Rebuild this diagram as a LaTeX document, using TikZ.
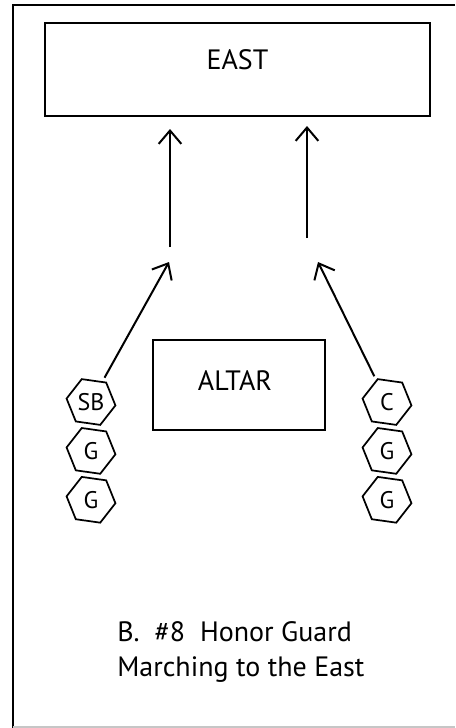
\documentclass[tikz,border=0pt]{standalone}
\usepackage{fontspec}
\setmainfont{PT Sans}
\usetikzlibrary{positioning, arrows.meta, shapes.geometric}
\tikzset{
  roombox/.style={
    draw,
    line width=1.5pt,
    inner sep=0pt
  },
  roomtext/.style={font=\fontsize{21}{25}\selectfont, inner sep=0pt},
  guard/.style={
    draw,
    regular polygon,
    regular polygon sides=6,
    shape border rotate=-8,
    minimum size=37pt,
    inner sep=0pt,
    line width=1.3pt,
    font=\fontsize{18}{22}\selectfont
  },
  march/.style={->, line width=1.5pt},
  frameline/.style={line width=2.2pt},
  caption/.style={font=\fontsize{21}{26.25}\selectfont, align=left, inner sep=0pt}
}

\begin{document}
\begin{tikzpicture}[
    x=0.75pt, y=-0.75pt,
    node distance=3pt,
    >={Straight Barb[length=10pt, width=17pt]}
  ]

  \useasboundingbox (0,0) rectangle (455,728);

  \draw[frameline] (13,728) -- (13,5) -- (455,5);
  \draw[gray!45, line width=0.8pt] (13,727) -- (455,727);

  \node[roombox, minimum width=288.75pt, minimum height=69.75pt] (east) at (237.5,69.5) {};
  \node[roomtext] (eastlbl) at ([yshift=7pt]east.center) {EAST};

  \node[roombox, minimum width=129pt, minimum height=67.5pt] (altar) at (239,385) {};
  \node[roomtext] (altarlbl) at ([xshift=-3pt, yshift=3.5pt]altar.center) {ALTAR};

  \node[guard] (sb) at (91,402) {SB};
  \node[guard, below=of sb] (gl1) {G};
  \node[guard, below=of gl1] (gl2) {G};

  \node[guard] (c) at (387,402) {C};
  \node[guard, below=of c] (gr1) {G};
  \node[guard, below=of gr1] (gr2) {G};

  \coordinate (turnL) at (169,262);
  \coordinate (riseL) at (170,247);
  \coordinate (turnR) at (318,262);
  \coordinate (riseR) at (307,238);

  \draw[march, shorten <=3pt] (sb) -- (turnL);
  \draw[march, shorten <=3pt] (c) -- (turnR);
  \draw[march, shorten >=9pt] (riseL) -- (riseL |- east.south);
  \draw[march, shorten >=6.75pt] (riseR) -- (riseR |- east.south);

  \node[caption, anchor=north west] (title) at (117,621) {B.~~\#8~~Honor Guard\\Marching to the East};

\end{tikzpicture}
\end{document}
